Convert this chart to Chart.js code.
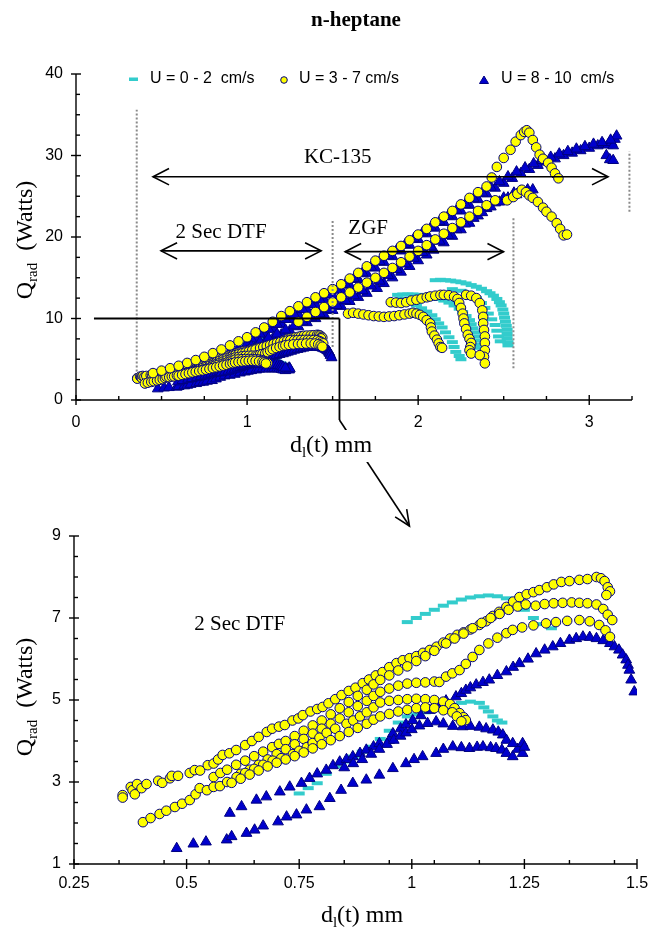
<!DOCTYPE html>
<html>
<head>
<meta charset="utf-8">
<script src="https://cdn.jsdelivr.net/npm/chart.js@4.4.1/dist/chart.umd.min.js"></script>
<style>
  html, body { margin: 0; padding: 0; background: #fff; }
  #wrap { position: relative; width: 650px; height: 939px; overflow: hidden; }
  canvas { position: absolute; left: 0; }
  #cTop { top: 0; }
  #cBot { top: 500px; }
</style>
</head>
<body>
<div id="wrap">
  <canvas id="cTop" width="650" height="545"></canvas>
  <canvas id="cBot" width="650" height="439"></canvas>
</div>
<script>
// ---------- axis ticks ----------
const topXTicks = [0, 1, 2, 3];
const topYTicks = [0, 10, 20, 30, 40];
const botXTicks = [0.25, 0.5, 0.75, 1, 1.25, 1.5];
const botYTicks = [1, 3, 5, 7, 9];

const seriesNames = ['U = 0 - 2  cm/s', 'U = 3 - 7 cm/s', 'U = 8 - 10  cm/s'];

// ---------- 2 s drop-tower runs (both panels) ----------
const dtfCyan1 = [[0.99,6.9],[1.01,7.0],[1.03,7.1],[1.05,7.2],[1.07,7.3],[1.09,7.38],[1.11,7.45],[1.13,7.5],[1.15,7.53],[1.17,7.55],[1.19,7.53],[1.21,7.48],[1.23,7.38],[1.25,7.2],[1.27,7.0],[1.29,6.85],[1.31,6.75]];
const dtfCyan2 = [[0.75,2.72],[0.77,2.85],[0.79,2.97],[0.81,3.2],[0.83,3.38],[0.85,3.5],[0.87,3.62],[0.89,3.74],[0.91,3.86],[0.93,4.05],[0.95,4.25],[0.97,4.45],[0.99,4.6],[1.01,4.65],[1.03,4.7],[1.05,4.76],[1.07,4.82],[1.09,4.88],[1.11,4.93],[1.13,4.96],[1.15,4.93],[1.16,4.82],[1.17,4.72],[1.18,4.6],[1.19,4.5],[1.2,4.45]];

const dtfYellow1 = [[0.358,2.68],[0.358,2.62],[0.376,2.88],[0.38,2.8],[0.385,2.7],[0.39,2.95],[0.40,2.85],[0.411,2.95],[0.437,3.03],[0.446,2.98],[0.463,3.09],[0.467,3.15],[0.481,3.15],[0.507,3.22],[0.518,3.29],[0.53,3.28],[0.547,3.41],[0.56,3.45],[0.57,3.55],[0.58,3.66],[0.595,3.7],[0.61,3.78],[0.63,3.9],[0.645,4.0],[0.66,4.1],[0.678,4.22],[0.69,4.3],[0.705,4.35],[0.718,4.39],[0.735,4.5],[0.748,4.55],[0.758,4.63],[0.775,4.72],[0.79,4.78],[0.802,4.83],[0.815,4.92],[0.83,5.02],[0.844,5.12],[0.86,5.22],[0.875,5.3],[0.891,5.41],[0.905,5.5],[0.92,5.6],[0.935,5.68],[0.95,5.8],[0.966,5.9],[0.98,5.97],[0.995,6.02],[1.01,6.07],[1.025,6.15],[1.04,6.22],[1.055,6.3],[1.07,6.4],[1.085,6.5],[1.101,6.59],[1.115,6.65],[1.13,6.72],[1.15,6.83],[1.165,6.92],[1.18,7.05],[1.194,7.15],[1.21,7.27],[1.225,7.4],[1.239,7.51],[1.255,7.58],[1.27,7.63],[1.283,7.68],[1.3,7.75],[1.315,7.82],[1.332,7.88],[1.35,7.9],[1.372,7.93],[1.39,7.95],[1.41,8.0],[1.42,7.97],[1.428,7.9],[1.435,7.75],[1.44,7.65],[1.432,7.56]];
const dtfYellow2 = [[0.56,3.12],[0.575,3.22],[0.59,3.3],[0.61,3.42],[0.63,3.52],[0.65,3.63],[0.67,3.74],[0.69,3.85],[0.705,3.93],[0.72,4.0],[0.74,4.12],[0.76,4.25],[0.78,4.38],[0.80,4.5],[0.82,4.65],[0.84,4.8],[0.86,4.95],[0.88,5.1],[0.90,5.25],[0.915,5.38],[0.93,5.49],[0.95,5.6],[0.97,5.72],[0.99,5.82],[1.01,5.95],[1.03,6.07],[1.05,6.2],[1.076,6.38],[1.095,6.5],[1.115,6.62],[1.135,6.75],[1.155,6.88],[1.175,7.0],[1.195,7.1],[1.215,7.2],[1.235,7.28],[1.253,7.33],[1.275,7.3],[1.295,7.34],[1.315,7.36],[1.335,7.37],[1.355,7.38],[1.372,7.37],[1.39,7.36],[1.41,7.33],[1.425,7.22],[1.435,7.08],[1.445,6.95]];
const dtfYellow3 = [[0.62,3.2],[0.64,3.3],[0.66,3.42],[0.68,3.55],[0.70,3.68],[0.72,3.8],[0.74,3.92],[0.76,4.05],[0.78,4.18],[0.80,4.3],[0.82,4.42],[0.84,4.55],[0.86,4.7],[0.88,4.85],[0.90,4.98],[0.915,5.1],[0.93,5.2],[0.95,5.28],[0.97,5.35],[0.99,5.4],[1.01,5.42],[1.03,5.43],[1.05,5.45],[1.061,5.44],[1.076,5.57],[1.09,5.65],[1.106,5.73],[1.12,5.88],[1.135,6.05],[1.15,6.22],[1.17,6.38],[1.19,6.52],[1.21,6.63],[1.224,6.71],[1.245,6.77],[1.27,6.82],[1.298,6.87],[1.32,6.9],[1.345,6.93],[1.372,6.95],[1.395,6.92],[1.416,6.83],[1.43,6.7],[1.44,6.54]];
const dtfYellow4 = [[0.403,2.02],[0.42,2.12],[0.44,2.22],[0.455,2.3],[0.474,2.39],[0.49,2.47],[0.507,2.56],[0.52,2.7],[0.529,2.85],[0.545,2.8],[0.56,2.88],[0.574,2.9],[0.59,3.0],[0.611,3.12],[0.63,3.22],[0.65,3.32],[0.67,3.42],[0.691,3.52],[0.71,3.58],[0.736,3.68],[0.75,3.76],[0.767,3.85],[0.78,3.95],[0.795,4.08],[0.811,4.2],[0.83,4.3],[0.855,4.42],[0.87,4.5],[0.885,4.6],[0.9,4.7],[0.915,4.82],[0.93,4.94],[0.95,4.98],[0.97,5.0],[0.99,5.02],[1.01,5.03],[1.03,5.02],[1.05,5.0],[1.07,4.96],[1.085,4.9],[1.095,4.8],[1.106,4.68],[1.115,4.58],[1.12,4.51]];
const dtfYellow5 = [[0.60,2.98],[0.62,3.08],[0.64,3.18],[0.66,3.28],[0.68,3.38],[0.70,3.47],[0.72,3.55],[0.74,3.63],[0.76,3.72],[0.78,3.82],[0.80,3.92],[0.82,4.02],[0.84,4.12],[0.86,4.22],[0.88,4.32],[0.90,4.42],[0.915,4.52],[0.93,4.6],[0.95,4.66],[0.97,4.72],[0.99,4.76],[1.01,4.8],[1.03,4.82],[1.05,4.8],[1.07,4.75],[1.09,4.7],[1.1,4.6],[1.11,4.48]];

const dtfBlue1 = [[0.478,1.38],[0.515,1.49],[0.543,1.54],[0.589,1.59],[0.6,1.67],[0.633,1.75],[0.651,1.83],[0.67,1.93],[0.703,2.03],[0.722,2.15],[0.744,2.2],[0.766,2.32],[0.795,2.4],[0.818,2.6],[0.843,2.8],[0.869,2.97],[0.899,3.05],[0.928,3.17],[0.958,3.33],[0.987,3.45],[1.005,3.55],[1.024,3.62],[1.054,3.7],[1.07,3.8],[1.091,3.86],[1.11,3.84],[1.128,3.82],[1.145,3.85],[1.158,3.86],[1.175,3.84],[1.187,3.82],[1.2,3.78],[1.21,3.7],[1.224,3.62],[1.235,3.8],[1.246,3.7],[1.246,3.94],[1.25,3.85]];
const dtfBlue2 = [[0.596,2.24],[0.622,2.4],[0.655,2.56],[0.677,2.64],[0.707,2.76],[0.729,2.88],[0.755,2.97],[0.773,3.09],[0.79,3.2],[0.81,3.29],[0.825,3.4],[0.84,3.49],[0.855,3.55],[0.869,3.62],[0.885,3.7],[0.899,3.78],[0.915,3.86],[0.928,3.94],[0.95,4.02],[0.958,4.18],[0.975,4.3],[0.987,4.4],[1.002,4.5],[1.02,4.62],[1.04,4.75],[1.06,4.88],[1.076,4.98],[1.098,5.08],[1.11,5.16],[1.12,5.24],[1.13,5.3],[1.143,5.37],[1.158,5.43],[1.172,5.49],[1.19,5.6],[1.21,5.69],[1.225,5.8],[1.239,5.89],[1.258,6.0],[1.276,6.13],[1.295,6.22],[1.313,6.3],[1.33,6.38],[1.35,6.46],[1.365,6.5],[1.38,6.54],[1.395,6.53],[1.41,6.5],[1.425,6.45],[1.44,6.38],[1.45,6.3],[1.46,6.22],[1.468,6.1],[1.476,5.98],[1.48,5.85],[1.483,5.73],[1.487,5.49],[1.494,5.2]];
const dtfBlue3 = [[0.85,3.35],[0.87,3.45],[0.89,3.55],[0.91,3.68],[0.928,3.8],[0.945,3.92],[0.96,4.02],[0.975,4.12],[0.987,4.2],[1.0,4.28],[1.017,4.37],[1.035,4.43],[1.054,4.47],[1.07,4.42],[1.091,4.36],[1.113,4.35],[1.13,4.36],[1.15,4.34],[1.165,4.3],[1.18,4.27],[1.192,4.22],[1.202,4.15],[1.21,4.02],[1.224,3.94]];

// ---------- KC-135 parabolic-flight runs ----------
const kcYellow1 = [[0.45,3.3],[0.5,3.6],[0.55,3.9],[0.6,4.2],[0.65,4.55],[0.7,4.9],[0.75,5.3],[0.8,5.75],[0.85,6.2],[0.9,6.7],[0.95,7.2],[1.0,7.7],[1.05,8.3],[1.1,8.9],[1.15,9.6],[1.2,10.3],[1.25,10.9],[1.3,11.5],[1.35,12.0],[1.4,12.6],[1.45,13.1],[1.5,13.6],[1.55,14.2],[1.6,14.9],[1.65,15.6],[1.7,16.4],[1.75,17.1],[1.8,17.7],[1.85,18.3],[1.9,18.9],[1.95,19.6],[2.0,20.3],[2.05,21.0],[2.1,21.8],[2.15,22.5],[2.2,23.2],[2.25,24.0],[2.3,24.8],[2.35,25.5],[2.4,26.2],[2.43,27.3],[2.46,28.6],[2.5,29.7],[2.54,30.7],[2.57,31.7],[2.6,32.5],[2.62,32.9],[2.635,33.1],[2.65,32.8],[2.67,31.9],[2.69,31.0],[2.71,30.1],[2.73,29.6],[2.76,29.1],[2.78,28.5],[2.80,27.8],[2.82,27.2]];
const kcYellow2 = [[1.3,9.6],[1.35,10.2],[1.4,10.8],[1.45,11.4],[1.5,12.0],[1.55,12.6],[1.6,13.2],[1.65,13.8],[1.7,14.4],[1.75,15.0],[1.8,15.6],[1.85,16.2],[1.9,16.9],[1.95,17.6],[2.0,18.3],[2.05,19.0],[2.1,19.7],[2.15,20.4],[2.2,21.1],[2.25,21.8],[2.3,22.5],[2.35,23.2],[2.4,23.9],[2.45,24.5],[2.52,24.5],[2.556,24.9],[2.58,25.3],[2.606,25.8],[2.63,25.5],[2.65,25.1],[2.67,24.8],[2.7,24.3],[2.73,23.6],[2.75,23.1],[2.78,22.5],[2.81,21.7],[2.83,21.0],[2.85,20.2],[2.87,20.3]];
const kcBlue1 = [[0.55,3.0],[0.6,3.3],[0.65,3.7],[0.7,4.1],[0.75,4.5],[0.8,4.9],[0.85,5.4],[0.9,5.9],[0.95,6.4],[1.0,6.9],[1.05,7.5],[1.1,8.1],[1.15,8.7],[1.2,9.3],[1.25,9.9],[1.3,10.5],[1.35,11.1],[1.4,11.7],[1.45,12.3],[1.5,12.9],[1.55,13.5],[1.6,14.1],[1.65,14.8],[1.7,15.5],[1.75,16.2],[1.8,16.9],[1.85,17.6],[1.9,18.3],[1.95,19.0],[2.0,19.7],[2.05,20.4],[2.1,21.1],[2.15,21.8],[2.2,22.5],[2.25,23.2],[2.3,23.9],[2.35,24.6],[2.4,25.3],[2.45,26.0],[2.5,26.6],[2.55,27.2],[2.6,27.8],[2.65,28.3],[2.7,28.8],[2.75,29.2],[2.8,29.6],[2.85,30.0],[2.9,30.3],[2.95,30.6],[3.0,30.9],[3.05,31.2],[3.08,31.4],[3.11,31.3],[3.13,31.6],[3.15,32.0],[3.16,32.4],[3.14,31.2],[3.1,30.0],[3.12,29.5],[3.14,29.4]];
const kcBlue2 = [[0.7,3.6],[0.75,3.95],[0.8,4.3],[0.85,4.7],[0.9,5.1],[0.95,5.5],[1.0,6.0],[1.05,6.5],[1.1,7.0],[1.15,7.5],[1.2,8.0],[1.25,8.5],[1.3,9.0],[1.35,9.5],[1.4,10.0],[1.45,10.5],[1.5,11.0],[1.55,11.5],[1.6,12.1],[1.65,12.6],[1.7,13.1],[1.76,13.7],[1.8,14.3],[1.85,15.0],[1.9,15.7],[1.95,16.4],[2.0,17.1],[2.05,17.8],[2.09,18.4],[2.15,19.3],[2.2,20.1],[2.25,20.9],[2.3,21.7],[2.35,22.6],[2.4,23.5],[2.45,24.2],[2.5,24.8],[2.56,25.4],[2.6,25.6],[2.64,25.8],[2.67,25.8]];
const kcBlue3 = [[1.025,7.5],[1.075,8.1],[1.125,8.7],[1.175,9.3],[1.225,9.9],[1.275,10.5],[1.325,11.1],[1.375,11.7],[1.425,12.3],[1.475,12.9],[1.525,13.5],[1.575,14.2],[1.625,14.9],[1.675,15.6],[1.725,16.3],[1.775,17.0],[1.825,17.7],[1.875,18.4],[1.925,19.1],[1.975,19.8],[2.025,20.5],[2.075,21.2],[2.125,21.9],[2.175,22.6],[2.225,23.3],[2.275,24.0],[2.325,24.7],[2.375,25.4],[2.425,26.1],[2.475,26.8],[2.525,27.4],[2.575,28.0],[2.625,28.5],[2.675,29.0],[2.725,29.4],[2.775,29.8],[2.825,30.2],[2.875,30.5],[2.925,30.8],[2.975,31.1],[3.025,31.4],[3.075,31.6],[3.125,31.9]];
const kcBlue4 = [[1.025,6.6],[1.075,7.1],[1.125,7.6],[1.175,8.1],[1.225,8.6],[1.275,9.1],[1.325,9.6],[1.375,10.1],[1.425,10.6],[1.475,11.1],[1.525,11.6],[1.575,12.2],[1.625,12.8],[1.675,13.4],[1.725,14.0],[1.775,14.6],[1.825,15.3],[1.875,16.0],[1.925,16.7],[1.975,17.4],[2.025,18.1],[2.075,18.8],[2.125,19.5],[2.175,20.2],[2.225,20.9],[2.275,21.6],[2.325,22.3],[2.375,23.0],[2.425,23.7],[2.475,24.3],[2.525,24.8],[2.575,25.2]];

// ---------- ZGF runs ----------
const zgfYellow1 = [[1.59,10.6],[1.62,10.7],[1.65,10.6],[1.68,10.5],[1.71,10.4],[1.74,10.3],[1.77,10.25],[1.80,10.2],[1.83,10.25],[1.86,10.3],[1.89,10.4],[1.92,10.5],[1.95,10.6],[1.97,10.7],[1.99,10.6],[2.01,10.45],[2.03,10.2],[2.05,9.8],[2.07,9.4],[2.075,8.9],[2.08,8.4],[2.095,7.9],[2.11,7.4],[2.12,6.95],[2.13,6.5],[2.14,6.4]];
const zgfYellow2 = [[1.84,12.0],[1.87,11.95],[1.9,11.9],[1.93,12.0],[1.96,12.2],[1.99,12.3],[2.02,12.45],[2.05,12.6],[2.07,12.7],[2.1,12.8],[2.13,12.9],[2.15,12.9],[2.18,12.85],[2.21,12.7],[2.23,12.4],[2.24,11.9],[2.25,11.3],[2.26,10.6],[2.265,10.0],[2.27,9.4],[2.28,8.7],[2.29,8.0],[2.30,7.5],[2.31,7.0],[2.305,6.5],[2.30,6.1],[2.31,5.7]];
const zgfYellow3 = [[2.28,12.9],[2.31,12.8],[2.34,12.5],[2.36,11.9],[2.375,11.0],[2.38,10.2],[2.38,9.4],[2.385,8.6],[2.39,7.8],[2.39,7.0],[2.39,6.1],[2.385,5.3],[2.36,5.5],[2.39,4.5]];
const zgfCyan1 = [[2.1,14.7],[2.13,14.75],[2.16,14.7],[2.19,14.65],[2.22,14.55],[2.25,14.45],[2.28,14.3],[2.31,14.1],[2.34,13.9],[2.37,13.65],[2.4,13.35],[2.42,13.1],[2.44,12.8],[2.46,12.4],[2.475,12.0],[2.485,11.6],[2.495,11.1],[2.5,10.6],[2.505,10.1],[2.51,9.6],[2.515,9.1],[2.52,8.6],[2.52,8.1],[2.52,7.6],[2.525,7.1],[2.525,6.7]];
const zgfCyan2 = [[1.88,12.9],[1.91,12.95],[1.94,12.95],[1.97,12.95],[2.0,12.9],[2.03,12.85],[2.06,12.75],[2.09,12.6],[2.12,12.4],[2.15,12.2],[2.18,11.95],[2.21,11.6],[2.24,11.2],[2.26,10.8],[2.28,10.3],[2.3,9.8],[2.31,9.3],[2.32,8.8],[2.33,8.3],[2.335,7.8],[2.34,7.3],[2.345,6.8],[2.35,6.4]];
const zgfCyan3 = [[1.9,12.4],[1.93,12.2],[1.96,11.9],[1.99,11.6],[2.02,11.25],[2.05,10.85],[2.08,10.4],[2.1,9.9],[2.12,9.4],[2.14,8.9],[2.16,8.3],[2.18,7.7],[2.2,7.1],[2.21,6.5],[2.22,5.9],[2.24,5.4],[2.25,5.0]];
const zgfCyan4 = [[2.2,13.6],[2.25,13.4],[2.3,13.0],[2.34,12.5],[2.37,11.9],[2.39,11.3],[2.41,10.6],[2.43,9.9],[2.45,9.2],[2.46,8.5],[2.47,7.8],[2.48,7.2]];

// ---------- annotation geometry (data units) ----------
const phaseLines = [[0.355, 3.5, 35.6], [1.5, 6.5, 22.2], [2.557, 3.9, 22.5], [3.235, 23.1, 30.5]];
const spans = [
  { label: 'KC-135',    x0: 0.45,  x1: 3.11,  y: 27.4, lx: 1.53,  ly: 29.8 },
  { label: '2 Sec DTF', x0: 0.497, x1: 1.433, y: 18.3, lx: 0.848, ly: 20.6 },
  { label: 'ZGF',       x0: 1.573, x1: 2.499, y: 18.2, lx: 1.708, ly: 21.1 }
];
const zoomCorner = { x0: 0.105, x1: 1.54, y: 10 };

// ---------- helpers ----------
const SERIF = '"Liberation Serif", "Times New Roman", serif';
const SANS = '"Liberation Sans", Arial, sans-serif';
const flat = list => [].concat(...list);
const steps = (a, b, s) => { const out = []; for (let v = a; v <= b + 1e-9; v += s) out.push(Math.round(v * 1000) / 1000); return out; };
const minus = (arr, ex) => arr.filter(v => !ex.some(e => Math.abs(e - v) < 1e-6));

function seg(ctx, x1, y1, x2, y2) { ctx.beginPath(); ctx.moveTo(x1, y1); ctx.lineTo(x2, y2); ctx.stroke(); }

function drawRuns(ctx, runs, cx, baseline, size) {
  let w = 0;
  const f = r => (r.sub ? Math.round(size * 0.62) : size) + 'px ' + SERIF;
  runs.forEach(r => { ctx.font = f(r); r.w = ctx.measureText(r.t).width; w += r.w; });
  let x = cx - w / 2;
  ctx.textAlign = 'left'; ctx.textBaseline = 'alphabetic';
  runs.forEach(r => { ctx.font = f(r); ctx.fillText(r.t, x, baseline + (r.sub ? size * 0.22 : 0)); x += r.w; });
  return w;
}
const dRuns = () => [{ t: 'd' }, { t: 'l', sub: true }, { t: '(t) mm' }];
const qRuns = () => [{ t: 'Q' }, { t: 'rad', sub: true }, { t: '  (Watts)' }];

function drawQLabel(ctx, cx, cy) {
  ctx.save(); ctx.translate(cx, cy); ctx.rotate(-Math.PI / 2);
  ctx.fillStyle = '#000'; drawRuns(ctx, qRuns(), 0, 8, 24);
  ctx.restore();
}

function arrowHead(ctx, tx, ty, dx, dy, len, ang) {
  const a = Math.atan2(dy, dx);
  ctx.beginPath();
  ctx.moveTo(tx - len * Math.cos(a - ang), ty - len * Math.sin(a - ang));
  ctx.lineTo(tx, ty);
  ctx.lineTo(tx - len * Math.cos(a + ang), ty - len * Math.sin(a + ang));
  ctx.stroke();
}

// axis lines with crossing major ticks and inner minor ticks
const axesFrame = {
  id: 'axesFrame',
  afterDraw(chart, args, o) {
    const { ctx, chartArea: a } = chart;
    const sx = chart.scales.x, sy = chart.scales.y;
    ctx.save();
    ctx.strokeStyle = '#000'; ctx.lineWidth = 1.4;
    seg(ctx, a.left, a.bottom, a.right, a.bottom);
    seg(ctx, a.left, a.top, a.left, a.bottom);
    o.xMajor.forEach(v => { const p = sx.getPixelForValue(v); seg(ctx, p, a.bottom - 5, p, a.bottom + 5); });
    o.xMinor.forEach(v => { const p = sx.getPixelForValue(v); seg(ctx, p, a.bottom - 4, p, a.bottom); });
    o.yMajor.forEach(v => { const p = sy.getPixelForValue(v); seg(ctx, a.left - 5, p, a.left + 5, p); });
    o.yMinor.forEach(v => { const p = sy.getPixelForValue(v); seg(ctx, a.left, p, a.left + 4, p); });
    ctx.restore();
  }
};

function datasets(cyan, yellow, blue) {
  return [
    { label: seriesNames[1], data: flat(yellow), pointStyle: 'circle', pointRadius: 4.8,
      backgroundColor: '#FFFF00', borderColor: '#000080', borderWidth: 1 },
    { label: seriesNames[2], data: flat(blue), pointStyle: 'triangle', pointRadius: 6.2,
      backgroundColor: '#0000CD', borderColor: '#000080', borderWidth: 1 },
    { label: seriesNames[0], data: flat(cyan), pointStyle: 'line', pointRadius: 5.5,
      backgroundColor: '#33CCCC', borderColor: '#33CCCC', borderWidth: 4 }
  ];
}

function scaleOpts(min, max, ticks, pad, fitKey, fitVal, cb) {
  return {
    type: 'linear', min, max,
    grid: { display: false, drawTicks: false },
    border: { display: false },
    ticks: { color: '#000', font: { family: SANS, size: 16 }, padding: pad, autoSkip: false, maxRotation: 0,
             callback: cb || (v => String(v)) },
    afterBuildTicks: s => { s.ticks = ticks.map(v => ({ value: v })); },
    afterFit: s => {
      s[fitKey] = fitVal;
      s.paddingLeft = 0; s.paddingRight = 0; s.paddingTop = 0; s.paddingBottom = 0;
    }
  };
}

// ---------- top panel ----------
const topNotes = {
  id: 'topNotes',
  afterDatasetsDraw(chart) {
    const { ctx } = chart;
    const X = v => chart.scales.x.getPixelForValue(v), Y = v => chart.scales.y.getPixelForValue(v);
    ctx.save();
    ctx.strokeStyle = '#8a8a8a'; ctx.lineWidth = 2; ctx.setLineDash([2, 2]);
    phaseLines.forEach(([x, y0, y1]) => seg(ctx, X(x), Y(y0), X(x), Y(y1)));
    ctx.setLineDash([]);
    ctx.strokeStyle = '#000'; ctx.lineWidth = 1.6;
    spans.forEach(s => {
      const a = X(s.x0), b = X(s.x1), y = Y(s.y);
      seg(ctx, a, y, b, y);
      arrowHead(ctx, a, y, -1, 0, 18, 0.47);
      arrowHead(ctx, b, y, 1, 0, 18, 0.47);
    });
    ctx.fillStyle = '#000'; ctx.font = '21px ' + SERIF; ctx.textAlign = 'center'; ctx.textBaseline = 'middle';
    spans.forEach(s => ctx.fillText(s.label, X(s.lx), Y(s.ly)));
    ctx.restore();
  },
  afterDraw(chart) {
    const { ctx, chartArea: a } = chart;
    const X = v => chart.scales.x.getPixelForValue(v), Y = v => chart.scales.y.getPixelForValue(v);
    ctx.save();
    // zoom window marker and connector down to the lower panel
    ctx.strokeStyle = '#000'; ctx.lineWidth = 1.8;
    const cx = X(zoomCorner.x1), cy = Y(zoomCorner.y);
    seg(ctx, X(zoomCorner.x0), cy, cx, cy);
    const yb = a.bottom + 20;
    seg(ctx, cx, cy, cx, yb);
    const tx = cx + 70, ty = yb + 106;
    ctx.lineWidth = 1.6;
    seg(ctx, cx, yb, tx, ty);
    arrowHead(ctx, tx, ty, tx - cx, ty - yb, 17, 0.42);
    // x-axis title on a white patch
    ctx.fillStyle = '#fff'; ctx.fillRect(288, 430, 88, 32);
    ctx.fillStyle = '#000'; drawRuns(ctx, dRuns(), 331, 452, 24);
    // y-axis title
    drawQLabel(ctx, 24, 240);
    // chart title
    ctx.font = 'bold 21px ' + SERIF; ctx.textAlign = 'center'; ctx.textBaseline = 'middle';
    ctx.fillText('n-heptane', 356, 21);
    // legend
    const ly = 79;
    ctx.font = '16px ' + SANS; ctx.textAlign = 'left'; ctx.textBaseline = 'middle';
    ctx.fillStyle = '#33CCCC'; ctx.fillRect(129, ly - 1.5, 9, 3.5);
    ctx.fillStyle = '#000'; ctx.fillText(seriesNames[0], 150, ly);
    ctx.beginPath(); ctx.arc(284, ly + 1, 3.3, 0, Math.PI * 2);
    ctx.fillStyle = '#FFFF00'; ctx.fill(); ctx.strokeStyle = '#000080'; ctx.lineWidth = 1; ctx.stroke();
    ctx.fillStyle = '#000'; ctx.fillText(seriesNames[1], 299, ly);
    ctx.beginPath(); ctx.moveTo(484, ly - 3); ctx.lineTo(488.5, ly + 4.5); ctx.lineTo(479.5, ly + 4.5); ctx.closePath();
    ctx.fillStyle = '#0000CD'; ctx.fill(); ctx.stroke();
    ctx.fillStyle = '#000'; ctx.fillText(seriesNames[2], 501, ly);
    ctx.restore();
  }
};

new Chart(document.getElementById('cTop'), {
  type: 'scatter',
  data: { datasets: datasets(
    [dtfCyan1, dtfCyan2, zgfCyan1, zgfCyan2, zgfCyan3, zgfCyan4],
    [dtfYellow1, dtfYellow2, dtfYellow3, dtfYellow4, dtfYellow5, kcYellow1, kcYellow2, zgfYellow1, zgfYellow2, zgfYellow3],
    [dtfBlue1, dtfBlue2, dtfBlue3, kcBlue1, kcBlue2, kcBlue3, kcBlue4]) },
  options: {
    responsive: false, animation: false, devicePixelRatio: 1, events: [],
    layout: { padding: { left: 0, top: 74, right: 18, bottom: 0 } },
    plugins: { legend: { display: false }, tooltip: { enabled: false }, title: { display: false },
      axesFrame: { xMajor: topXTicks, xMinor: minus(steps(0, 3.25, 0.25), topXTicks),
                   yMajor: topYTicks, yMinor: minus(steps(0, 40, 2.5), topYTicks) } },
    scales: {
      x: scaleOpts(0, 3.25, topXTicks, 13, 'height', 145),
      y: scaleOpts(0, 40, topYTicks, 13, 'width', 76)
    }
  },
  plugins: [axesFrame, topNotes]
});

// ---------- lower panel (2 s drop-tower detail) ----------
const botNotes = {
  id: 'botNotes',
  afterDraw(chart) {
    const { ctx } = chart;
    const X = v => chart.scales.x.getPixelForValue(v), Y = v => chart.scales.y.getPixelForValue(v);
    ctx.save();
    ctx.fillStyle = '#000'; ctx.font = '21px ' + SERIF; ctx.textAlign = 'center'; ctx.textBaseline = 'middle';
    ctx.fillText('2 Sec DTF', X(0.618), Y(6.83));
    drawRuns(ctx, dRuns(), 362, 422, 24);
    drawQLabel(ctx, 24, 197);
    ctx.restore();
  }
};

new Chart(document.getElementById('cBot'), {
  type: 'scatter',
  data: { datasets: datasets(
    [dtfCyan1, dtfCyan2],
    [dtfYellow1, dtfYellow2, dtfYellow3, dtfYellow4, dtfYellow5],
    [dtfBlue1, dtfBlue2, dtfBlue3]) },
  options: {
    responsive: false, animation: false, devicePixelRatio: 1, events: [],
    layout: { padding: { left: 0, top: 36, right: 13, bottom: 0 } },
    plugins: { legend: { display: false }, tooltip: { enabled: false }, title: { display: false },
      axesFrame: { xMajor: botXTicks, xMinor: minus(steps(0.35, 1.45, 0.1), botXTicks),
                   yMajor: botYTicks, yMinor: minus(steps(1, 9, 0.5), botYTicks) } },
    scales: {
      x: scaleOpts(0.25, 1.5, botXTicks, 10, 'height', 75),
      y: scaleOpts(1, 9, botYTicks, 13, 'width', 74)
    }
  },
  plugins: [axesFrame, botNotes]
});
</script>
</body>
</html>
